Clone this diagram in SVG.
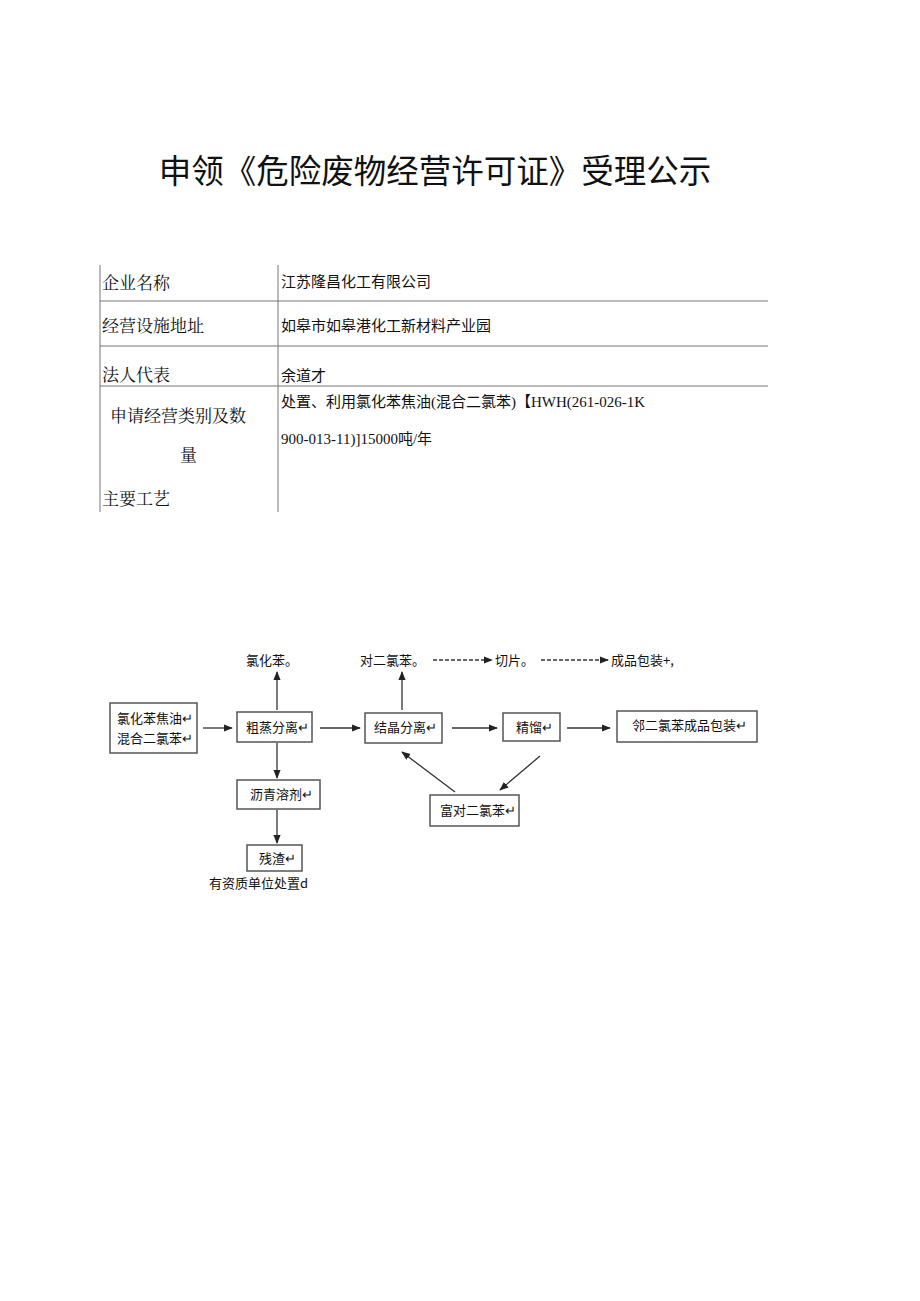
<svg xmlns="http://www.w3.org/2000/svg" width="920" height="1301" viewBox="0 0 920 1301">
<style>
text{font-family:"Noto Sans CJK SC","Liberation Sans",sans-serif;fill:#111}
.t{font-family:"Noto Serif CJK SC","Noto Sans CJK SC",serif;font-size:17px}
.v{font-family:"Liberation Serif","Noto Sans CJK SC",serif;font-size:15px}
.n{font-size:13px}
.b{fill:#fff;stroke:#555;stroke-width:1.5}
.l{stroke:#333;stroke-width:1.3;fill:none}
.g{stroke:#777;stroke-width:1}
</style>
<defs><marker id="a" viewBox="0 0 10 10" refX="9" refY="5" markerWidth="7" markerHeight="7" orient="auto"><path d="M0,1L10,5L0,9z" fill="#222"/></marker></defs>
<rect width="920" height="1301" fill="#fff"/>
<text x="435" y="183" font-size="32.5" text-anchor="middle">申领《危险废物经营许可证》受理公示</text>
<g id="table">
<line class="g" x1="100" y1="265" x2="100" y2="512"/>
<line class="g" x1="278" y1="265" x2="278" y2="512"/>
<line class="g" x1="100" y1="301" x2="768" y2="301"/>
<line class="g" x1="100" y1="346" x2="768" y2="346"/>
<line class="g" x1="100" y1="386" x2="768" y2="386"/>
<text class="t" x="102" y="289">企业名称</text>
<text class="t" x="102" y="332">经营设施地址</text>
<text class="t" x="102" y="381">法人代表</text>
<text class="t" x="110" y="422">申请经营类别及数</text>
<text class="t" x="180" y="461">量</text>
<text class="t" x="102" y="505">主要工艺</text>
<text class="v" x="281" y="287">江苏隆昌化工有限公司</text>
<text class="v" x="281" y="331">如皋市如皋港化工新材料产业园</text>
<text class="v" x="281" y="381">余道才</text>
<text class="v" x="281" y="407">处置、利用氯化苯焦油(混合二氯苯)【HWH(261-026-1K</text>
<text class="v" x="281" y="444">900-013-11)]15000吨/年</text>
</g>
<g id="connectors">
<line class="l" x1="203" y1="728" x2="232" y2="728" marker-end="url(#a)"/>
<line class="l" x1="277" y1="710" x2="277" y2="672" marker-end="url(#a)"/>
<line class="l" x1="320" y1="728" x2="360" y2="728" marker-end="url(#a)"/>
<line class="l" x1="402" y1="710" x2="402" y2="672" marker-end="url(#a)"/>
<line class="l" x1="452" y1="728" x2="497" y2="728" marker-end="url(#a)"/>
<line class="l" x1="567" y1="728" x2="610" y2="728" marker-end="url(#a)"/>
<line class="l" x1="277" y1="743" x2="277" y2="778" marker-end="url(#a)"/>
<line class="l" x1="277" y1="810" x2="277" y2="843" marker-end="url(#a)"/>
<line class="l" x1="540" y1="756" x2="500" y2="790" marker-end="url(#a)"/>
<line class="l" x1="455" y1="792" x2="402" y2="752" marker-end="url(#a)"/>
<line class="l" x1="433" y1="660" x2="492" y2="660" stroke-dasharray="4,2" marker-end="url(#a)"/>
<line class="l" x1="541" y1="660" x2="608" y2="660" stroke-dasharray="4,2" marker-end="url(#a)"/>
</g>
<g id="feed"><rect class="b" x="110" y="703" width="87" height="50"/><text class="n" x="117" y="723">氯化苯焦油↵</text><text class="n" x="117" y="743">混合二氯苯↵</text></g>
<g id="crude"><rect class="b" x="237" y="712" width="75" height="30"/><text class="n" x="246" y="732">粗蒸分离↵</text></g>
<g id="cryst"><rect class="b" x="365" y="713" width="77" height="30"/><text class="n" x="374" y="732">结晶分离↵</text></g>
<g id="rect"><rect class="b" x="503" y="713" width="57" height="28"/><text class="n" x="516" y="732">精馏↵</text></g>
<g id="ortho"><rect class="b" x="617" y="711" width="140" height="31"/><text class="n" x="632" y="730">邻二氯苯成品包装↵</text></g>
<g id="pitch"><rect class="b" x="237" y="780" width="83" height="29"/><text class="n" x="250" y="799">沥青溶剂↵</text></g>
<g id="residue"><rect class="b" x="247" y="845" width="55" height="26"/><text class="n" x="259" y="863">残渣↵</text></g>
<g id="rich"><rect class="b" x="430" y="795" width="89" height="31"/><text class="n" x="440" y="815">富对二氯苯↵</text></g>
<text class="n" x="246" y="665">氯化苯。</text>
<text class="n" x="360" y="665">对二氯苯。</text>
<text class="n" x="495" y="665">切片。</text>
<text class="n" x="611" y="665">成品包装+,</text>
<text class="n" x="209" y="888">有资质单位处置d</text>
</svg>
